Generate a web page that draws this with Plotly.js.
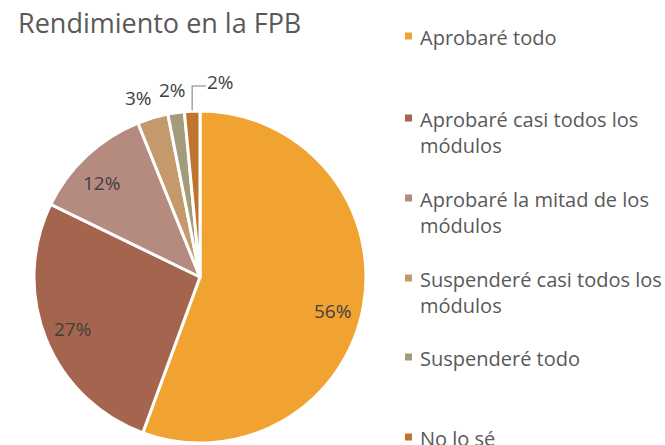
<!DOCTYPE html>
<html><head><meta charset="utf-8">
<script src="https://cdn.plot.ly/plotly-3.0.1.min.js"></script>
<style>body{margin:0;background:#fff}#chart{width:665px;height:445px}</style>
</head><body><div id="chart"></div>
<script>
const labels = ["Aprobaré todo", "Aprobaré casi todos los<br>módulos", "Aprobaré la mitad de los<br>módulos", "Suspenderé casi todos los<br>módulos", "Suspenderé todo", "No lo sé"];
const values = [55.6, 26.6, 11.7, 3.0, 1.6, 1.5];
const colors = ["#F0A330", "#A5644E", "#B58B80", "#C49A6C", "#A39B7A", "#C0732A"];

const W = 665, H = 445;
const FONT = "Open Sans, sans-serif";
// pie placement (pixels)
const cx = 200, cy = 277, R = 166;
const dom = {x: [(cx - R) / W, (cx + R) / W], y: [1 - (cy + R) / H, 1 - (cy - R) / H]};

// label placement style: radius factor and pixel nudges
const labelRadius = [0.81, 0.83, 0.83, 1.14, 1.14, 1.17];
const labelShiftX = [0, 0, -4, -8, 0, 30];
const labelShiftY = [10, 0, 7, 2, 0, -1];
const leader = [false, false, false, false, false, true];

const total = values.reduce((a, b) => a + b, 0);
const annotations = [];
const shapes = [];
let cum = 0;
values.forEach((v, i) => {
  const mid = (cum + v / 2) / total * 2 * Math.PI;
  cum += v;
  const r = R * labelRadius[i];
  const px = cx + r * Math.sin(mid) + labelShiftX[i];
  const py = cy - r * Math.cos(mid) + labelShiftY[i];
  annotations.push({
    x: px / W, y: 1 - py / H, xref: "paper", yref: "paper",
    xanchor: "center", yanchor: "middle",
    text: Math.round(v / total * 100) + "%", showarrow: false,
    font: {family: FONT, size: 19, color: "#404040"}
  });
  if (leader[i]) {
    const ex = cx + R * Math.sin(mid), ey = cy - R * Math.cos(mid);
    const ky = py + 4;
    shapes.push({
      type: "path", xref: "paper", yref: "paper",
      path: `M ${ex / W} ${1 - (ey - 1) / H} L ${ex / W} ${1 - ky / H} L ${(px - 15) / W} ${1 - ky / H}`,
      line: {color: "#A6A6A6", width: 1.5}
    });
  }
});

// legend (manual)
const legendTop = [36, 118, 198, 278, 357, 437];
labels.forEach((lab, i) => {
  const y = legendTop[i];
  shapes.push({
    type: "rect", xref: "paper", yref: "paper",
    x0: 405 / W, x1: 412 / W, y0: 1 - (y + 3.5) / H, y1: 1 - (y - 3.5) / H,
    fillcolor: colors[i], line: {width: 0}
  });
  annotations.push({
    x: 418 / W, y: 1 - (y - 14) / H, xref: "paper", yref: "paper",
    xanchor: "left", yanchor: "top", align: "left", showarrow: false,
    text: lab, font: {family: FONT, size: 20, color: "#595959"}
  });
});

const data = [{
  type: "pie", labels: labels, values: values, sort: false, direction: "clockwise",
  rotation: 0, textinfo: "none", hoverinfo: "label+percent",
  marker: {colors: colors, line: {color: "#FFFFFF", width: 3}},
  domain: dom, showlegend: false
}];

const layout = {
  width: W, height: H, margin: {l: 0, r: 0, t: 0, b: 0},
  paper_bgcolor: "#FFFFFF",
  title: {text: "Rendimiento en la FPB", x: 18 / W, xanchor: "left", y: 1 - 24 / H, yanchor: "middle",
    font: {family: FONT, size: 27, color: "#595959"}},
  annotations: annotations, shapes: shapes, showlegend: false
};
Plotly.newPlot("chart", data, layout, {displayModeBar: false, staticPlot: true});
</script></body></html>
